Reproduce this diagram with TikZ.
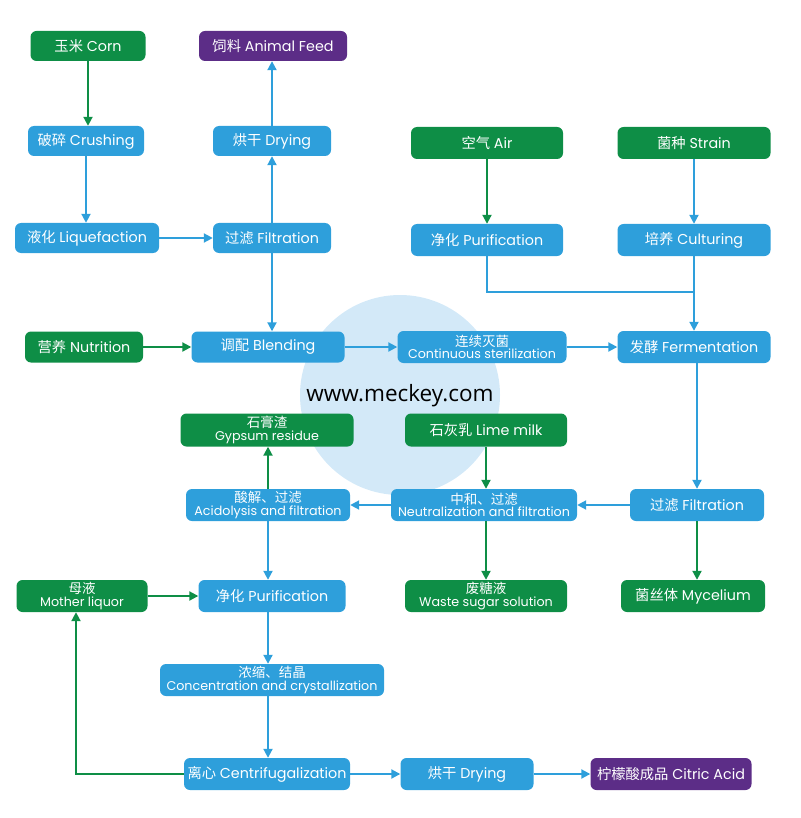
\documentclass[tikz,border=0pt]{standalone}
\usepackage{fontspec}
\setmainfont{Poppins}
\newfontfamily\cjk{Noto Sans CJK SC}
\newfontfamily\wmfont{Open Sans}
\usetikzlibrary{arrows.meta}
\definecolor{gr}{HTML}{0E8E46}
\definecolor{bl}{HTML}{2E9FDB}
\definecolor{pu}{HTML}{5C2D87}
\definecolor{wmc}{HTML}{D3E9F8}
\newcommand\cn[1]{{\cjk #1}}
\newcommand\cnb[1]{{\fontsize{13.5}{12.5}\selectfont\cjk #1}}
\begin{document}
\begin{tikzpicture}[x=1pt,y=-1pt,
  box/.style={rounded corners=6pt, text=white, font=\fontsize{14.3}{14}\selectfont, inner sep=0pt, align=center},
  g/.style={box, fill=gr}, b/.style={box, fill=bl}, p/.style={box, fill=pu},
  two/.style={font=\fontsize{12.7}{12.5}\selectfont},
  ar/.style={line width=2pt, -{Triangle[length=9pt,width=9pt]}},
  ga/.style={ar, draw=gr}, ba/.style={ar, draw=bl},
  bline/.style={line width=2pt, draw=bl}]
\useasboundingbox (0,0) rectangle (800,818);
\fill[wmc] (400,395) circle (100);
\node[font=\wmfont\fontsize{22.5}{22.5}\selectfont, text=black] (wm) at (400,396) {www.meckey.com};

\node[g, minimum width=115pt, minimum height=30pt] (corn) at (88,46) {\cn{玉米} Corn};
\node[p, minimum width=148pt, minimum height=30pt] (feed) at (273,46) {\cn{饲料} Animal Feed};
\node[b, minimum width=116pt, minimum height=30pt] (crush) at (86,141) {\cn{破碎} Crushing};
\node[b, minimum width=118pt, minimum height=30pt] (dry1) at (272,141) {\cn{烘干} Drying};
\node[b, minimum width=144pt, minimum height=30pt] (liq) at (87,238) {\cn{液化} Liquefaction};
\node[b, minimum width=118pt, minimum height=30pt] (filt1) at (272,238) {\cn{过滤} Filtration};
\node[g, minimum width=152pt, minimum height=32pt] (air) at (487,143) {\cn{空气} Air};
\node[g, minimum width=153pt, minimum height=32pt] (strain) at (694,143) {\cn{菌种} Strain};
\node[b, minimum width=152pt, minimum height=32pt] (pur1) at (487,240) {\cn{净化} Purification};
\node[b, minimum width=153pt, minimum height=32pt] (cult) at (694,240) {\cn{培养} Culturing};
\node[g, minimum width=118pt, minimum height=31pt] (nutr) at (84,347) {\cn{营养} Nutrition};
\node[b, minimum width=153pt, minimum height=31pt] (blend) at (268,347) {\cn{调配} Blending};
\node[b, two, minimum width=169pt, minimum height=32pt] (ster) at (482,347) {\cnb{连续灭菌}\\Continuous sterilization};
\node[b, minimum width=153pt, minimum height=32pt] (ferm) at (694,347) {\cn{发酵} Fermentation};
\node[g, two, minimum width=173pt, minimum height=33pt] (gyp) at (267,430) {\cnb{石膏渣}\\Gypsum residue};
\node[g, minimum width=162pt, minimum height=33pt] (lime) at (486,430) {\cn{石灰乳} Lime milk};
\node[b, two, minimum width=164pt, minimum height=32pt] (acid) at (268,505) {\cnb{酸解、过滤}\\Acidolysis and filtration};
\node[b, two, minimum width=186pt, minimum height=32pt] (neut) at (484,505) {\cnb{中和、过滤}\\Neutralization and filtration};
\node[b, minimum width=134pt, minimum height=32pt] (filt2) at (697,505) {\cn{过滤} Filtration};
\node[g, two, minimum width=131pt, minimum height=32pt] (moth) at (82,596) {\cnb{母液}\\Mother liquor};
\node[b, minimum width=147pt, minimum height=32pt] (pur2) at (272,596) {\cn{净化} Purification};
\node[g, two, minimum width=162pt, minimum height=32pt] (waste) at (486,596) {\cnb{废糖液}\\Waste sugar solution};
\node[g, minimum width=144pt, minimum height=32pt] (myc) at (693,596) {\cn{菌丝体} Mycelium};
\node[b, two, minimum width=224pt, minimum height=32pt] (conc) at (272,680) {\cnb{浓缩、结晶}\\Concentration and crystallization};
\node[b, minimum width=166pt, minimum height=32pt] (cent) at (267,774) {\cn{离心} Centrifugalization};
\node[b, minimum width=133pt, minimum height=32pt] (dry2) at (467,774) {\cn{烘干} Drying};
\node[p, minimum width=161pt, minimum height=32pt] (citric) at (671,774) {\cn{柠檬酸成品} Citric Acid};

\draw[ga] (corn.south) -- (corn.south |- crush.north);
\draw[ba] (crush.south) -- (crush.south |- liq.north);
\draw[ba] (liq) -- (filt1);
\draw[ba] (filt1) -- (dry1);
\draw[ba] (dry1) -- (feed.south -| dry1);
\draw[ba] (filt1.south) -- (filt1.south |- blend.north);
\draw[ga] (nutr) -- (blend);
\draw[ba] (blend) -- (ster);
\draw[ba] (ster) -- (ferm);
\draw[ga] (air) -- (pur1);
\draw[ba] (strain) -- (cult);
\coordinate (jn) at (cult.south |- 0,292);
\draw[bline] (pur1.south) |- (jn);
\draw[ba] (cult.south) -- (cult.south |- ferm.north);
\draw[ba] (filt2.north |- ferm.south) -- (filt2.north);
\draw[ga] (filt2.south) -- (filt2.south |- myc.north);
\draw[ba] (filt2) -- (neut);
\draw[ga] (lime) -- (neut.north -| lime);
\draw[ga] (neut.south -| lime) -- (waste.north);
\draw[ba] (neut) -- (acid);
\draw[ga] (acid.north) -- (acid.north |- gyp.south);
\draw[ba] (acid.south) -- (acid.south |- pur2.north);
\draw[ga] (moth) -- (pur2);
\draw[ba] (pur2.south -| acid) -- (acid |- conc.north);
\draw[ba] (conc.south -| acid) -- (acid |- cent.north);
\draw[ga] (cent.west) -| ([xshift=-6pt]moth.south);
\draw[ba] (cent) -- (dry2);
\draw[ba] (dry2) -- (citric);
\end{tikzpicture}
\end{document}
